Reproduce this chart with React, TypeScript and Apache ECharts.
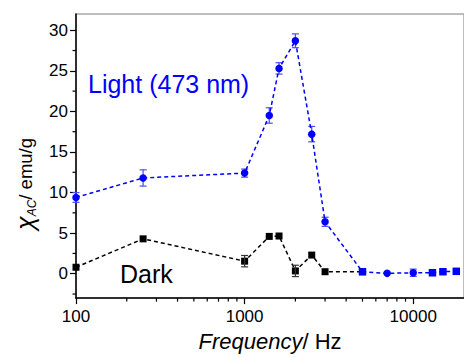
import React, { useEffect, useRef } from "react";
import * as echarts from "echarts";

const FONT = "'Liberation Sans', Arial, sans-serif";

// Light (473 nm) series
const freqLight = [100, 250, 1000, 1400, 1600, 2000, 2500, 3000, 5000, 7000, 10000, 13000, 15000, 18000];
const chiLight = [9.4, 11.8, 12.4, 19.5, 25.3, 28.7, 17.2, 6.4, 0.25, 0.05, 0.12, 0.12, 0.25, 0.3];
const errLight = [0.6, 1.0, 0.5, 0.95, 0.7, 0.85, 0.95, 0.56, 0, 0, 0.45, 0, 0, 0];
const symLight = ["circle", "circle", "circle", "circle", "circle", "circle", "circle", "circle", "rect", "circle", "circle", "rect", "rect", "rect"];

// Dark series
const freqDark = [100, 250, 1000, 1400, 1600, 2000, 2500, 3000, 5000];
const chiDark = [0.8, 4.3, 1.55, 4.6, 4.65, 0.35, 2.3, 0.25, 0.25];
const errDark = [0, 0, 0.7, 0, 0, 0.7, 0, 0, 0];

// ticks
const xMajorTicks = [100, 1000, 10000];
const xMinorTicks = [200, 300, 400, 500, 600, 700, 800, 900, 2000, 3000, 4000, 5000, 6000, 7000, 8000, 9000];
const yMajorTicks = [0, 5, 10, 15, 20, 25, 30];
const yMinorTicks = [-2.5, 2.5, 7.5, 12.5, 17.5, 22.5, 27.5];

const X_MIN = 100;
const X_MAX = 20000;
const Y_MIN = -3;
const Y_MAX = 32;

function errorBarSeries(freq: number[], val: number[], err: number[], color: string, z: number) {
  const data = freq
    .map((f, i) => [f, val[i], err[i]])
    .filter((d) => d[2] > 0);
  return {
    type: "custom",
    xAxisIndex: 0,
    yAxisIndex: 0,
    z,
    silent: true,
    encode: { x: 0, y: 1 },
    data,
    renderItem: (params: any, api: any) => {
      const x = api.value(0);
      const y = api.value(1);
      const e = api.value(2);
      const top = api.coord([x, y + e]);
      const bot = api.coord([x, y - e]);
      const hw = 3.5;
      const style = { stroke: color, lineWidth: 1.2, fill: null };
      return {
        type: "group",
        children: [
          { type: "line", shape: { x1: top[0], y1: top[1], x2: bot[0], y2: bot[1] }, style },
          { type: "line", shape: { x1: top[0] - hw, y1: top[1], x2: top[0] + hw, y2: top[1] }, style },
          { type: "line", shape: { x1: bot[0] - hw, y1: bot[1], x2: bot[0] + hw, y2: bot[1] }, style },
        ],
      };
    },
  };
}

export default function App() {
  const ref = useRef<HTMLDivElement>(null);

  useEffect(() => {
    if (!ref.current) return;
    const chart = echarts.init(ref.current, undefined, { renderer: "svg" });

    const axisLabelStyle = { fontSize: 17, color: "#000", fontFamily: FONT };

    const baseGraphic: any[] = [
      {
        type: "text",
        x: 88,
        y: 84,
        style: {
          text: "Light (473 nm)",
          fill: "#0000ff",
          fontSize: 25,
          fontFamily: FONT,
          verticalAlign: "middle",
          align: "left",
        },
      },
      {
        type: "text",
        x: 120,
        y: 274,
        style: {
          text: "Dark",
          fill: "#000",
          fontSize: 25,
          fontFamily: FONT,
          verticalAlign: "middle",
          align: "left",
        },
      },
      {
        type: "text",
        x: 25,
        y: 184,
        rotation: Math.PI / 2,
        style: {
          text: "{c|χ}{s|AC}{n|/ emu/g}",
          align: "center",
          verticalAlign: "middle",
          rich: {
            c: { fontSize: 25, fontStyle: "italic", fill: "#000", fontFamily: FONT, lineHeight: 26 },
            s: { fontSize: 12, fontStyle: "italic", fill: "#000", fontFamily: FONT, lineHeight: 12, verticalAlign: "bottom" },
            n: { fontSize: 18.5, fill: "#000", fontFamily: FONT, lineHeight: 26 },
          },
        },
      },
    ];

    const option: any = {
      animation: false,
      backgroundColor: "#fff",
      textStyle: { fontFamily: FONT },
      grid: {
        left: 76,
        top: 14,
        width: 391,
        height: 290,
        show: true,
        borderColor: "#a8a8a8",
        borderWidth: 1.5,
        backgroundColor: "transparent",
        containLabel: false,
      },
      xAxis: {
        type: "log",
        logBase: 10,
        min: X_MIN,
        max: X_MAX,
        position: "bottom",
        axisLine: { show: true, onZero: false, lineStyle: { color: "#000", width: 1.5 } },
        axisTick: { show: true, length: 6, customValues: xMajorTicks, lineStyle: { color: "#000", width: 1.2 } },
        axisLabel: {
          ...axisLabelStyle,
          customValues: xMajorTicks,
          margin: 10,
          formatter: (v: number) => String(Math.round(v)),
        },
        splitLine: { show: false },
        minorTick: { show: false },
        name: "{i|Frequency}{n|/ Hz}",
        nameLocation: "middle",
        nameGap: 29,
        nameTextStyle: {
          rich: {
            i: { fontSize: 22, fontStyle: "italic", color: "#000", fontFamily: FONT },
            n: { fontSize: 22, color: "#000", fontFamily: FONT },
          },
        },
      },
      yAxis: {
        type: "value",
        min: Y_MIN,
        max: Y_MAX,
        position: "left",
        axisLine: { show: true, onZero: false, lineStyle: { color: "#000", width: 1.5 } },
        axisTick: { show: true, length: 6, customValues: yMajorTicks, lineStyle: { color: "#000", width: 1.2 } },
        axisLabel: { ...axisLabelStyle, customValues: yMajorTicks, margin: 8 },
        splitLine: { show: false },
      },
      graphic: baseGraphic,
      series: [
        {
          type: "line",
          name: "Dark",
          z: 2,
          data: freqDark.map((f, i) => [f, chiDark[i]]),
          symbol: "rect",
          symbolSize: 7,
          showAllSymbol: true,
          clip: false,
          lineStyle: { color: "#000", width: 1.5, type: [4, 3] },
          itemStyle: { color: "#000" },
        },
        errorBarSeries(freqDark, chiDark, errDark, "#333", 3),
        errorBarSeries(freqLight, chiLight, errLight, "#4a4aff", 4),
        {
          type: "line",
          name: "Light",
          z: 5,
          data: freqLight.map((f, i) => ({ value: [f, chiLight[i]], symbol: symLight[i] })),
          symbolSize: 7.5,
          showAllSymbol: true,
          clip: false,
          lineStyle: { color: "#0000ff", width: 1.5, type: [4, 3] },
          itemStyle: { color: "#0000ff" },
        },
      ],
    };

    chart.setOption(option);

    // minor ticks placed through the axes' own scales
    const len = 3.5;
    const tickStyle = { stroke: "#000", lineWidth: 1.2 };
    const minor: any[] = [];
    xMinorTicks.forEach((v) => {
      const p = chart.convertToPixel({ gridIndex: 0 }, [v, Y_MIN]) as number[];
      if (p) minor.push({ type: "line", silent: true, z: 20, shape: { x1: p[0], y1: p[1], x2: p[0], y2: p[1] + len }, style: tickStyle });
    });
    yMinorTicks.forEach((v) => {
      const p = chart.convertToPixel({ gridIndex: 0 }, [X_MIN, v]) as number[];
      if (p) minor.push({ type: "line", silent: true, z: 20, shape: { x1: p[0] - len, y1: p[1], x2: p[0], y2: p[1] }, style: tickStyle });
    });
    chart.setOption({ ...option, graphic: [...baseGraphic, ...minor] }, true);

    return () => chart.dispose();
  }, []);

  return (
    <div
      ref={ref}
      style={{ position: "fixed", left: 0, top: 0, width: 464, height: 357, background: "#fff" }}
    />
  );
}
